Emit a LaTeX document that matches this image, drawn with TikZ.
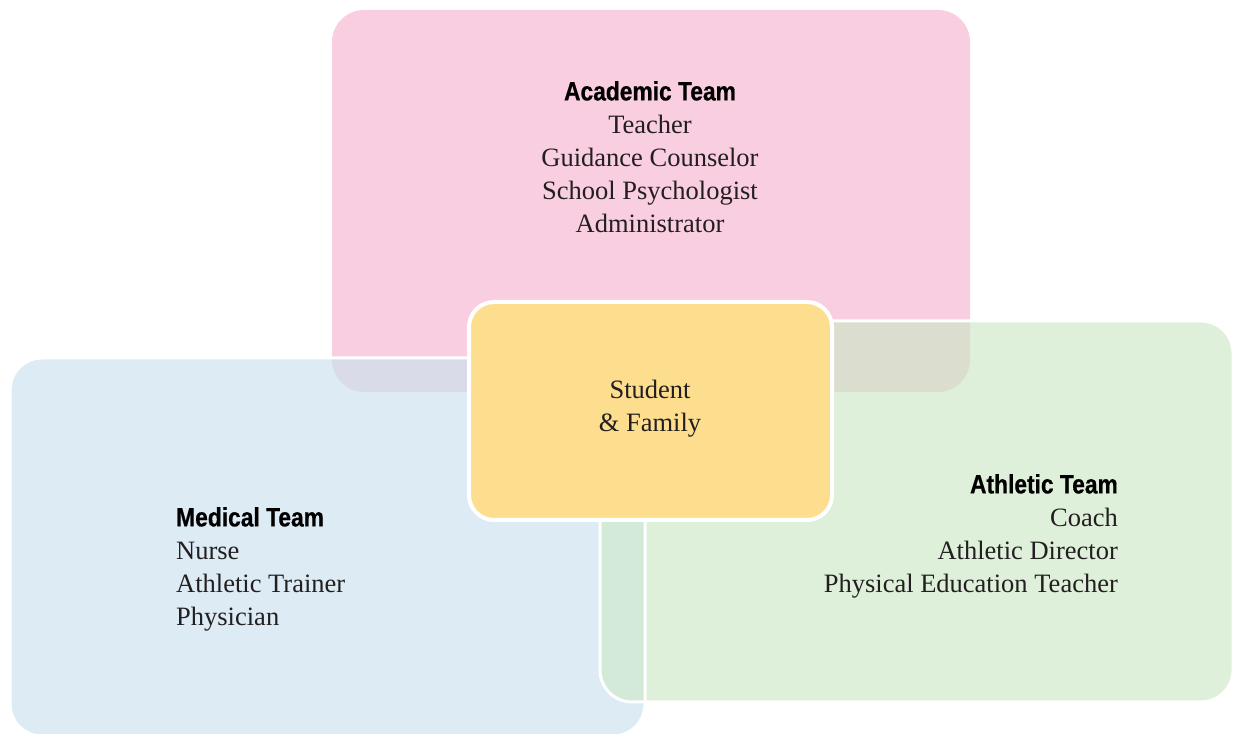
\documentclass[tikz,border=0pt]{standalone}
\usepackage{fontspec}
\setmainfont{Liberation Serif}
\newfontfamily\headfont[FakeStretch=0.86,FakeBold=0.6]{Liberation Sans}
\definecolor{acol}{RGB}{249,206,224}
\definecolor{mcol}{RGB}{221,235,245}
\definecolor{gcol}{RGB}{222,240,218}
\definecolor{scol}{RGB}{253,222,142}
\definecolor{amcol}{RGB}{218,219,233}
\definecolor{agcol}{RGB}{219,221,207}
\definecolor{mgcol}{RGB}{211,234,216}
\definecolor{tcol}{RGB}{35,31,32}
\newcommand{\team}[1]{{\headfont\bfseries\color{black}#1}}
\tikzset{every picture/.style={x=1pt,y=1pt}}
\tikzset{box/.style={rounded corners=32}}
\tikzset{rim/.style={draw=white,line width=3}}
\tikzset{roles/.style={inner sep=0pt,text=tcol,font=\fontsize{26.5}{33}\selectfont}}

\begin{document}
\begin{tikzpicture}
\clip (0,0) rectangle (1235,734);
% team boxes
\fill [acol,box] (332,342) rectangle (970,724);
\fill [mcol,box] (10,-2) rectangle (645,376);
\fill [gcol,box] (600,32) rectangle (1233,413);
% overlaps
\begin{scope}
\clip [box] (332,342) rectangle (970,724);
\fill [amcol,box] (10,-2) rectangle (645,376);
\fill [agcol,box] (600,32) rectangle (1233,413);
\end{scope}
\begin{scope}
\clip [box] (10,-2) rectangle (645,376);
\fill [mgcol,box] (600,32) rectangle (1233,413);
\end{scope}
\draw [rim,box] (10,-2) rectangle (645,376);
\draw [rim,box] (600,32) rectangle (1233,413);
% centre
\draw [rim,line width=4,fill=scol,rounded corners=25] (469,214) rectangle (832,432);

\node [roles,align=center,anchor=north] (academic) at (650,653)
  {\team{Academic Team}\\Teacher\\Guidance Counselor\\School Psychologist\\Administrator};
\node [roles,align=left,anchor=north west] (medical) at (176,227)
  {\team{Medical Team}\\Nurse\\Athletic Trainer\\Physician};
\node [roles,align=right,anchor=north east] (athletic) at (1118,260)
  {\team{Athletic Team}\\Coach\\Athletic Director\\Physical Education Teacher};
\node [roles,align=center] (student) at (650,325) {Student\\\& Family};
\end{tikzpicture}
\end{document}
